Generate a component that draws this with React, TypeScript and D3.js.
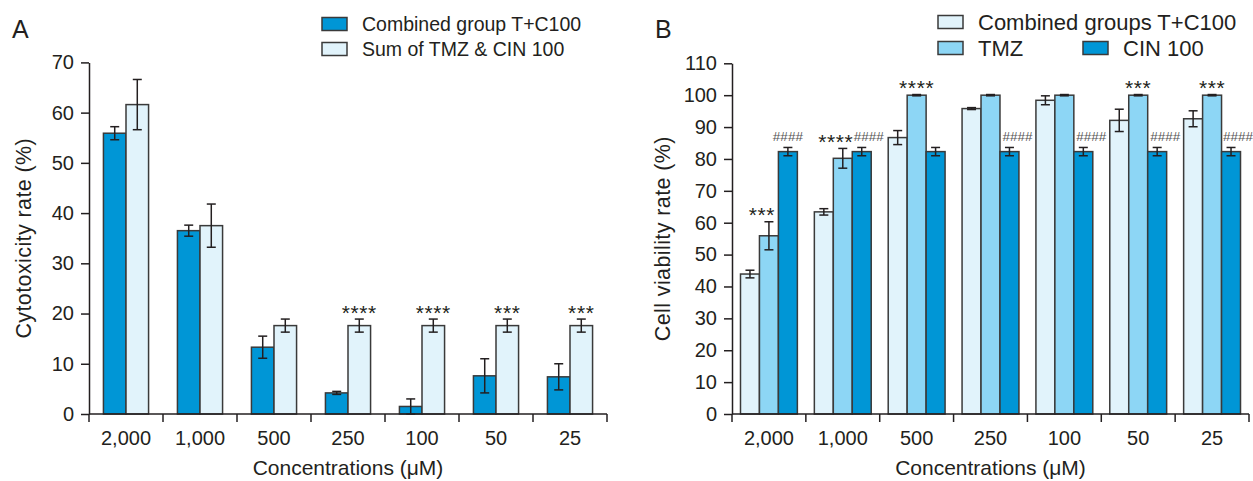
import React, { useEffect, useRef } from 'react';
import * as d3 from 'd3';

const concentrations = ['2,000', '1,000', '500', '250', '100', '50', '25'];

// Panel A - cytotoxicity
const combinedA = [55.9, 36.5, 13.3, 4.2, 1.5, 7.6, 7.4];
const combinedAErr = [1.3, 1.1, 2.2, 0.3, 1.5, 3.4, 2.6];
const sumA = [61.6, 37.5, 17.6, 17.6, 17.6, 17.6, 17.6];
const sumAErr = [5.0, 4.3, 1.3, 1.3, 1.3, 1.3, 1.3];
const sumAMarks = ['', '', '', '****', '****', '***', '***'];
const ticksA = [0, 10, 20, 30, 40, 50, 60, 70];

// Panel B - cell viability
const combinedB = [43.9, 63.4, 86.7, 95.8, 98.4, 92.1, 92.6];
const combinedBErr = [1.2, 1.0, 2.2, 0.3, 1.4, 3.5, 2.5];
const tmzB = [55.9, 80.2, 100, 100, 100, 100, 100];
const tmzBErr = [4.4, 3.1, 0.2, 0.2, 0.2, 0.2, 0.2];
const tmzBMarks = ['***', '****', '****', '', '', '***', '***'];
const cinB = [82.3, 82.3, 82.3, 82.3, 82.3, 82.3, 82.3];
const cinBErr = [1.3, 1.3, 1.3, 1.3, 1.3, 1.3, 1.3];
const cinBMarks = ['####', '####', '', '####', '####', '####', '####'];
const ticksB = [0, 10, 20, 30, 40, 50, 60, 70, 80, 90, 100, 110];

// label nudges (px) so neighbouring marks don't collide
const tmzMarkNudge = [-7, -7, 0, 0, 0, 0, 0];
const cinMarkNudge = [0, 7, 0, 8, 8, 8, 7];

const DARK = '#0096d6';
const LIGHT = '#e1f3fb';
const MID = '#8dd6f5';
const INK = '#231f20';
const FONT = '"Liberation Sans", Arial, sans-serif';

type Series = { key: string; values: number[]; err: number[]; color: string; marks?: string[]; nudge?: number[] };

const drawPanel = (svg, opts) => {
  const { left, right, top, bottom, yMax, ticks, series, groupFrac, title, yTitle, yTitleX, letter, letterX } = opts;

  const g = svg.append('g');

  const x = d3.scaleBand().domain(concentrations).range([left, right]).paddingInner(0).paddingOuter(0);
  const bw = x.bandwidth();
  const gw = bw * groupFrac;
  const xSub = d3.scaleBand()
    .domain(series.map((s: Series) => s.key))
    .range([(bw - gw) / 2, (bw + gw) / 2])
    .padding(0);
  const y = d3.scaleLinear().domain([0, yMax]).range([bottom, top]);

  // bars
  series.forEach((s: Series) => {
    g.selectAll(null)
      .data(concentrations)
      .enter()
      .append('rect')
      .attr('x', (d) => x(d) + xSub(s.key))
      .attr('width', xSub.bandwidth())
      .attr('y', (d, i) => y(s.values[i]))
      .attr('height', (d, i) => bottom - y(s.values[i]))
      .style('fill', s.color)
      .style('stroke', '#3a3a3a')
      .style('stroke-width', 1.5);
  });

  // error bars + significance marks
  const cap = 4.5;
  series.forEach((s: Series) => {
    concentrations.forEach((c, i) => {
      const cx = x(c) + xSub(s.key) + xSub.bandwidth() / 2;
      const hi = y(s.values[i] + s.err[i]);
      const lo = y(Math.max(0, s.values[i] - s.err[i]));
      const eb = g.append('g').style('stroke', INK).style('stroke-width', 1.5);
      eb.append('line').attr('x1', cx).attr('x2', cx).attr('y1', hi).attr('y2', lo);
      eb.append('line').attr('x1', cx - cap).attr('x2', cx + cap).attr('y1', hi).attr('y2', hi);
      eb.append('line').attr('x1', cx - cap).attr('x2', cx + cap).attr('y1', lo).attr('y2', lo);

      const mark = s.marks ? s.marks[i] : '';
      if (mark) {
        const isHash = mark.startsWith('#');
        g.append('text')
          .attr('x', cx + (s.nudge ? s.nudge[i] : 0))
          .attr('y', hi - 11)
          .attr('dy', isHash ? '0.36em' : '0.55em')
          .attr('text-anchor', 'middle')
          .style('font-family', FONT)
          .style('font-size', isHash ? '13.5px' : '21px')
          .style('fill', isHash ? '#555' : INK)
          .style('letter-spacing', isHash ? '0px' : '0.6px')
          .text(mark);
      }
    });
  });

  // y axis
  const yAxis = g.append('g')
    .attr('transform', `translate(${left},0)`)
    .call(d3.axisLeft(y).tickValues(ticks).tickSize(8).tickSizeOuter(0).tickPadding(7));
  yAxis.selectAll('path, line').style('stroke', INK).style('stroke-width', 1.5);
  yAxis.selectAll('text')
    .style('font-family', FONT)
    .style('font-size', '20px')
    .style('fill', INK);

  // x axis with ticks between groups
  const xAxis = g.append('g').style('stroke', INK).style('stroke-width', 1.5);
  xAxis.append('line').attr('x1', left).attr('x2', right).attr('y1', bottom).attr('y2', bottom);
  const bounds = concentrations.map((c) => x(c)).concat([right]);
  xAxis.selectAll(null)
    .data(bounds)
    .enter()
    .append('line')
    .attr('x1', (d) => d)
    .attr('x2', (d) => d)
    .attr('y1', bottom)
    .attr('y2', bottom + 8);

  g.selectAll(null)
    .data(concentrations)
    .enter()
    .append('text')
    .attr('x', (d) => x(d) + bw / 2)
    .attr('y', 445)
    .attr('text-anchor', 'middle')
    .style('font-family', FONT)
    .style('font-size', '20px')
    .style('fill', INK)
    .text((d) => d);

  g.append('text')
    .attr('x', (left + right) / 2)
    .attr('y', 475)
    .attr('text-anchor', 'middle')
    .style('font-family', FONT)
    .style('font-size', '21px')
    .style('fill', INK)
    .text(title);

  g.append('text')
    .attr('transform', `translate(${yTitleX},${(top + bottom) / 2}) rotate(-90)`)
    .attr('dy', '0.35em')
    .attr('text-anchor', 'middle')
    .style('font-family', FONT)
    .style('font-size', '21.5px')
    .style('letter-spacing', '0.4px')
    .style('fill', INK)
    .text(yTitle);

  g.append('text')
    .attr('x', letterX)
    .attr('y', 38)
    .style('font-family', FONT)
    .style('font-size', '25px')
    .style('fill', INK)
    .text(letter);

  return g;
};

const drawLegend = (svg, items, fontSize) => {
  const lg = svg.append('g');
  items.forEach((it) => {
    lg.append('rect')
      .attr('x', it.x)
      .attr('y', it.y - 6.5)
      .attr('width', 25)
      .attr('height', 13)
      .style('fill', it.color)
      .style('stroke', '#3a3a3a')
      .style('stroke-width', 1.5);
    lg.append('text')
      .attr('x', it.x + 40)
      .attr('y', it.y)
      .attr('dy', '0.36em')
      .style('font-family', FONT)
      .style('font-size', fontSize)
      .style('fill', INK)
      .text(it.label);
  });
};

const App = () => {
  const ref = useRef<SVGSVGElement>(null);

  useEffect(() => {
    const svg = d3.select(ref.current);
    svg.selectAll('*').remove();

    drawPanel(svg, {
      left: 89, right: 607, top: 62.4, bottom: 414,
      yMax: 70, ticks: ticksA, groupFrac: 0.61,
      series: [
        { key: 'combined', values: combinedA, err: combinedAErr, color: DARK },
        { key: 'sum', values: sumA, err: sumAErr, color: LIGHT, marks: sumAMarks },
      ],
      title: 'Concentrations (\u03bcM)',
      yTitle: 'Cytotoxicity rate (%)',
      yTitleX: 23,
      letter: 'A', letterX: 12,
    });

    drawPanel(svg, {
      left: 732, right: 1249, top: 63.3, bottom: 414,
      yMax: 110, ticks: ticksB, groupFrac: 0.77,
      series: [
        { key: 'combined', values: combinedB, err: combinedBErr, color: LIGHT },
        { key: 'tmz', values: tmzB, err: tmzBErr, color: MID, marks: tmzBMarks, nudge: tmzMarkNudge },
        { key: 'cin', values: cinB, err: cinBErr, color: DARK, marks: cinBMarks, nudge: cinMarkNudge },
      ],
      title: 'Concentrations (\u03bcM)',
      yTitle: 'Cell viability rate (%)',
      yTitleX: 662,
      letter: 'B', letterX: 655,
    });

    drawLegend(svg, [
      { x: 322, y: 24, color: DARK, label: 'Combined group T+C100' },
      { x: 322, y: 49, color: LIGHT, label: 'Sum of TMZ & CIN 100' },
    ], '19.5px');

    drawLegend(svg, [
      { x: 938, y: 22, color: LIGHT, label: 'Combined groups T+C100' },
      { x: 938, y: 48, color: MID, label: 'TMZ' },
      { x: 1083, y: 48, color: DARK, label: 'CIN 100' },
    ], '22px');
  }, []);

  return (
    <svg
      ref={ref}
      width={1253}
      height={481}
      style={{ position: 'absolute', left: 0, top: 0, background: '#fff' }}
    />
  );
};

export default App;
